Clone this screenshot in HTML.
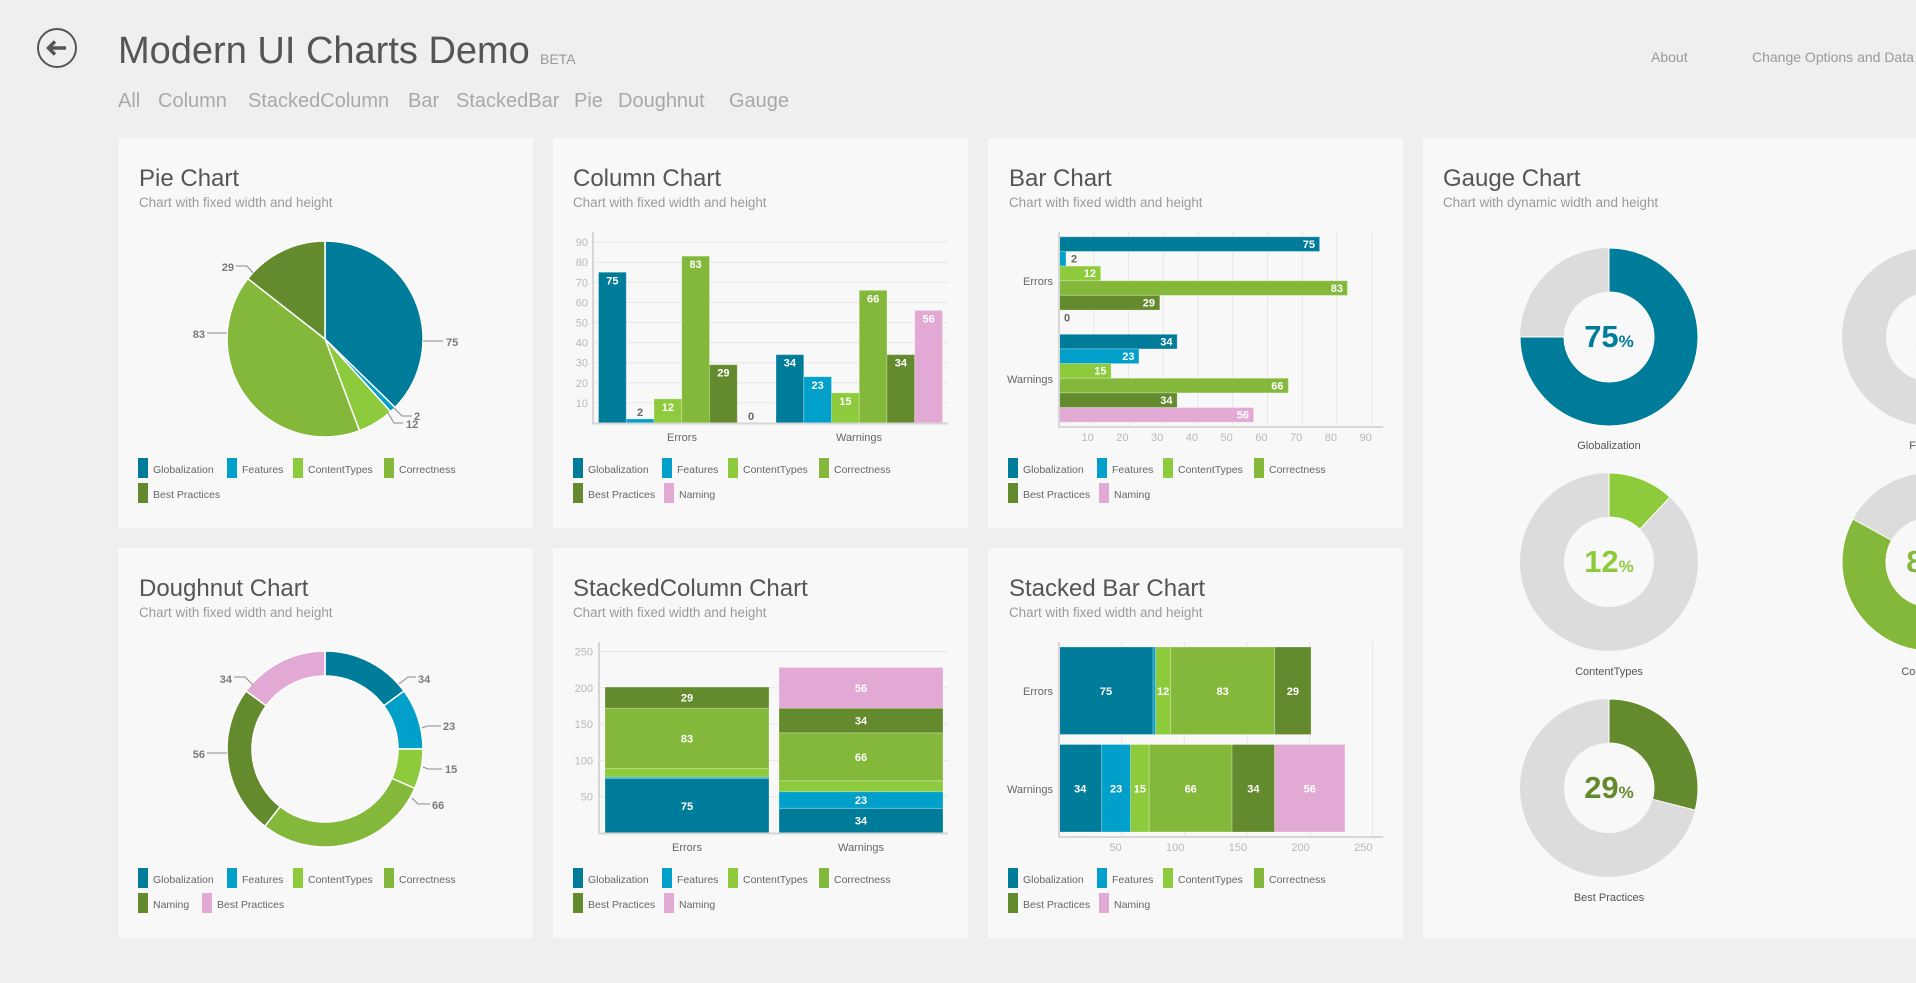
<!DOCTYPE html>
<html>
<head>
<meta charset="utf-8">
<style>
html,body{margin:0;padding:0;background:#efefef;width:1916px;height:983px;overflow:hidden;}
svg{display:block;font-family:"Liberation Sans",Arial,sans-serif;}
.t{font-size:24px;fill:#555;}
.st{font-size:13.4px;fill:#9a9a9a;}
.lg{font-size:10.5px;fill:#666;}
.tk{font-size:11px;fill:#b8b8b8;}
.cat{font-size:11px;fill:#666;}
.vl{font-size:11px;font-weight:bold;fill:#fff;}
.vo{font-size:11px;font-weight:bold;fill:#666;}
.pl{font-size:11px;font-weight:bold;fill:#7a7a7a;}
.nav{font-size:20px;fill:#a9a9a9;}
.hr{font-size:14px;fill:#999;}
.gl{stroke:#e6e6e6;stroke-width:1;}
.ax{stroke:#d6d6d6;stroke-width:2;}
.ld{stroke:#8a8a8a;stroke-width:1;fill:none;}
.bar{stroke:rgba(255,255,255,0.25);stroke-width:1;}
.gn{font-size:11px;fill:#555;}
</style>
</head>
<body>
<svg width="1916" height="983" viewBox="0 0 1916 983" xmlns="http://www.w3.org/2000/svg">
<rect x="0" y="0" width="1916" height="983" fill="#efefef"/>

<!-- Header -->
<circle cx="57" cy="48" r="19" fill="none" stroke="#555" stroke-width="2"/>
<path d="M66,48 H49 M55,41.5 L48.5,48 L55,54.5" fill="none" stroke="#555" stroke-width="3.5" stroke-linejoin="miter"/>
<text x="118" y="63" font-size="38" fill="#555">Modern UI Charts Demo</text>
<text x="540" y="64" font-size="14" fill="#999">BETA</text>
<text class="nav" x="118" y="107">All</text>
<text class="nav" x="158" y="107">Column</text>
<text class="nav" x="248" y="107">StackedColumn</text>
<text class="nav" x="408" y="107">Bar</text>
<text class="nav" x="456" y="107">StackedBar</text>
<text class="nav" x="574" y="107">Pie</text>
<text class="nav" x="618" y="107">Doughnut</text>
<text class="nav" x="729" y="107">Gauge</text>
<text class="hr" x="1651" y="62">About</text>
<text class="hr" x="1752" y="62">Change Options and Data</text>

<!-- Panels -->
<rect x="118" y="138" width="415" height="390" fill="#f8f8f8"/>
<rect x="553" y="138" width="415" height="390" fill="#f8f8f8"/>
<rect x="988" y="138" width="415" height="390" fill="#f8f8f8"/>
<rect x="118" y="548" width="415" height="390" fill="#f8f8f8"/>
<rect x="553" y="548" width="415" height="390" fill="#f8f8f8"/>
<rect x="988" y="548" width="415" height="390" fill="#f8f8f8"/>
<rect x="1423" y="138" width="520" height="800" fill="#f8f8f8"/>

<!-- ============ PIE ============ -->
<text class="t" x="139" y="186">Pie Chart</text>
<text class="st" x="139" y="207">Chart with fixed width and height</text>
<g stroke="#fff" stroke-width="1.5">
<path d="M325,339 L325,241 A98,98 0 0 1 395.09,407.49 Z" fill="#007C9B"/>
<path d="M325,339 L395.09,407.49 A98,98 0 0 1 390.68,411.73 Z" fill="#00A0CA"/>
<path d="M325,339 L390.68,411.73 A98,98 0 0 1 359.47,430.74 Z" fill="#8DCB3C"/>
<path d="M325,339 L359.47,430.74 A98,98 0 0 1 247.84,278.58 Z" fill="#84B83A"/>
<path d="M325,339 L247.84,278.58 A98,98 0 0 1 325,241 Z" fill="#638A2D"/>
</g>
<line class="ld" x1="423" y1="341" x2="443" y2="341"/>
<text class="pl" x="446" y="346">75</text>
<polyline class="ld" points="394,408 402,416 412,416"/>
<text class="pl" x="414" y="420">2</text>
<polyline class="ld" points="388,413 394,423 403,423"/>
<text class="pl" x="406" y="428">12</text>
<line class="ld" x1="207" y1="333" x2="227" y2="333"/>
<text class="pl" x="205" y="338" text-anchor="end">83</text>
<polyline class="ld" points="253,273 247,266 236,266"/>
<text class="pl" x="234" y="271" text-anchor="end">29</text>
<!-- legend -->
<rect x="138" y="458" width="10" height="20" fill="#007C9B"/><text class="lg" x="153" y="473">Globalization</text>
<rect x="227" y="458" width="10" height="20" fill="#00A0CA"/><text class="lg" x="242" y="473">Features</text>
<rect x="293" y="458" width="10" height="20" fill="#8DCB3C"/><text class="lg" x="308" y="473">ContentTypes</text>
<rect x="384" y="458" width="10" height="20" fill="#84B83A"/><text class="lg" x="399" y="473">Correctness</text>
<rect x="138" y="483" width="10" height="20" fill="#638A2D"/><text class="lg" x="153" y="498">Best Practices</text>

<!-- ============ COLUMN ============ -->
<text class="t" x="573" y="186">Column Chart</text>
<text class="st" x="573" y="207">Chart with fixed width and height</text>
<g class="gl">
<line x1="593" y1="402.9" x2="948" y2="402.9"/>
<line x1="593" y1="382.8" x2="948" y2="382.8"/>
<line x1="593" y1="362.7" x2="948" y2="362.7"/>
<line x1="593" y1="342.6" x2="948" y2="342.6"/>
<line x1="593" y1="322.5" x2="948" y2="322.5"/>
<line x1="593" y1="302.4" x2="948" y2="302.4"/>
<line x1="593" y1="282.3" x2="948" y2="282.3"/>
<line x1="593" y1="262.2" x2="948" y2="262.2"/>
<line x1="593" y1="242.1" x2="948" y2="242.1"/>
</g>
<g class="tk" text-anchor="end">
<text x="588" y="406.9">10</text><text x="588" y="386.8">20</text><text x="588" y="366.7">30</text>
<text x="588" y="346.6">40</text><text x="588" y="326.5">50</text><text x="588" y="306.4">60</text>
<text x="588" y="286.3">70</text><text x="588" y="266.2">80</text><text x="588" y="246.1">90</text>
</g>
<g class="bar">
<rect x="598.5" y="272.25" width="27.75" height="150.75" fill="#007C9B"/>
<rect x="626.25" y="418.98" width="27.75" height="4.02" fill="#00A0CA"/>
<rect x="654" y="398.88" width="27.75" height="24.12" fill="#8DCB3C"/>
<rect x="681.75" y="256.17" width="27.75" height="166.83" fill="#84B83A"/>
<rect x="709.5" y="364.71" width="27.75" height="58.29" fill="#638A2D"/>
<rect x="776" y="354.66" width="27.75" height="68.34" fill="#007C9B"/>
<rect x="803.75" y="376.77" width="27.75" height="46.23" fill="#00A0CA"/>
<rect x="831.5" y="392.85" width="27.75" height="30.15" fill="#8DCB3C"/>
<rect x="859.25" y="290.34" width="27.75" height="132.66" fill="#84B83A"/>
<rect x="887" y="354.66" width="27.75" height="68.34" fill="#638A2D"/>
<rect x="914.75" y="310.44" width="27.75" height="112.56" fill="#E2A9D5"/>
</g>
<g class="vl" text-anchor="middle">
<text x="612.4" y="284.3">75</text>
<text x="667.9" y="410.9">12</text>
<text x="695.6" y="268.2">83</text>
<text x="723.4" y="376.7">29</text>
<text x="789.9" y="366.7">34</text>
<text x="817.6" y="388.8">23</text>
<text x="845.4" y="404.9">15</text>
<text x="873.1" y="302.3">66</text>
<text x="900.9" y="366.7">34</text>
<text x="928.6" y="322.4">56</text>
</g>
<g class="vo" text-anchor="middle">
<text x="640.1" y="416">2</text>
<text x="751.1" y="420">0</text>
</g>
<line class="ax" x1="593" y1="232" x2="593" y2="424"/>
<line class="ax" x1="592" y1="423.5" x2="948" y2="423.5"/>
<text class="cat" x="682" y="441" text-anchor="middle">Errors</text>
<text class="cat" x="859" y="441" text-anchor="middle">Warnings</text>
<rect x="573" y="458" width="10" height="20" fill="#007C9B"/><text class="lg" x="588" y="473">Globalization</text>
<rect x="662" y="458" width="10" height="20" fill="#00A0CA"/><text class="lg" x="677" y="473">Features</text>
<rect x="728" y="458" width="10" height="20" fill="#8DCB3C"/><text class="lg" x="743" y="473">ContentTypes</text>
<rect x="819" y="458" width="10" height="20" fill="#84B83A"/><text class="lg" x="834" y="473">Correctness</text>
<rect x="573" y="483" width="10" height="20" fill="#638A2D"/><text class="lg" x="588" y="498">Best Practices</text>
<rect x="664" y="483" width="10" height="20" fill="#E2A9D5"/><text class="lg" x="679" y="498">Naming</text>

<!-- ============ BAR ============ -->
<text class="t" x="1009" y="186">Bar Chart</text>
<text class="st" x="1009" y="207">Chart with fixed width and height</text>
<g class="gl">
<line x1="1093.75" y1="232" x2="1093.75" y2="427"/>
<line x1="1128.5" y1="232" x2="1128.5" y2="427"/>
<line x1="1163.25" y1="232" x2="1163.25" y2="427"/>
<line x1="1198" y1="232" x2="1198" y2="427"/>
<line x1="1232.75" y1="232" x2="1232.75" y2="427"/>
<line x1="1267.5" y1="232" x2="1267.5" y2="427"/>
<line x1="1302.25" y1="232" x2="1302.25" y2="427"/>
<line x1="1337" y1="232" x2="1337" y2="427"/>
<line x1="1371.75" y1="232" x2="1371.75" y2="427"/>
</g>
<g class="tk" text-anchor="end">
<text x="1093.75" y="441">10</text><text x="1128.5" y="441">20</text><text x="1163.25" y="441">30</text>
<text x="1198" y="441">40</text><text x="1232.75" y="441">50</text><text x="1267.5" y="441">60</text>
<text x="1302.25" y="441">70</text><text x="1337" y="441">80</text><text x="1371.75" y="441">90</text>
</g>
<g class="bar">
<rect x="1059" y="236.8" width="260.6" height="14.65" fill="#007C9B"/>
<rect x="1059" y="251.45" width="6.95" height="14.65" fill="#00A0CA"/>
<rect x="1059" y="266.1" width="41.7" height="14.65" fill="#8DCB3C"/>
<rect x="1059" y="280.75" width="288.4" height="14.65" fill="#84B83A"/>
<rect x="1059" y="295.4" width="100.8" height="14.65" fill="#638A2D"/>
<rect x="1059" y="334.3" width="118.15" height="14.65" fill="#007C9B"/>
<rect x="1059" y="348.95" width="79.9" height="14.65" fill="#00A0CA"/>
<rect x="1059" y="363.6" width="52.1" height="14.65" fill="#8DCB3C"/>
<rect x="1059" y="378.25" width="229.35" height="14.65" fill="#84B83A"/>
<rect x="1059" y="392.9" width="118.15" height="14.65" fill="#638A2D"/>
<rect x="1059" y="407.55" width="194.6" height="14.65" fill="#E2A9D5"/>
</g>
<g class="vl" text-anchor="end">
<text x="1315" y="247.8">75</text>
<text x="1096" y="277.1">12</text>
<text x="1343" y="291.8">83</text>
<text x="1155" y="306.4">29</text>
<text x="1172.5" y="345.3">34</text>
<text x="1134.5" y="360">23</text>
<text x="1106.5" y="374.6">15</text>
<text x="1283.5" y="389.3">66</text>
<text x="1172.5" y="403.9">34</text>
<text x="1249" y="418.6">56</text>
</g>
<text class="vo" x="1071" y="262.5">2</text>
<text class="vo" x="1064" y="321.5">0</text>
<line class="ax" x1="1059" y1="232" x2="1059" y2="428"/>
<line class="ax" x1="1058" y1="427" x2="1383" y2="427"/>
<text class="cat" x="1053" y="285" text-anchor="end">Errors</text>
<text class="cat" x="1053" y="383" text-anchor="end">Warnings</text>
<rect x="1008" y="458" width="10" height="20" fill="#007C9B"/><text class="lg" x="1023" y="473">Globalization</text>
<rect x="1097" y="458" width="10" height="20" fill="#00A0CA"/><text class="lg" x="1112" y="473">Features</text>
<rect x="1163" y="458" width="10" height="20" fill="#8DCB3C"/><text class="lg" x="1178" y="473">ContentTypes</text>
<rect x="1254" y="458" width="10" height="20" fill="#84B83A"/><text class="lg" x="1269" y="473">Correctness</text>
<rect x="1008" y="483" width="10" height="20" fill="#638A2D"/><text class="lg" x="1023" y="498">Best Practices</text>
<rect x="1099" y="483" width="10" height="20" fill="#E2A9D5"/><text class="lg" x="1114" y="498">Naming</text>

<!-- ============ DOUGHNUT ============ -->
<text class="t" x="139" y="596">Doughnut Chart</text>
<text class="st" x="139" y="617">Chart with fixed width and height</text>
<g stroke="#fff" stroke-width="1.5">
<path d="M325,651 A98,98 0 0 1 403.98,690.98 L383.83,705.78 A73,73 0 0 0 325,676 Z" fill="#007C9B"/>
<path d="M403.98,690.98 A98,98 0 0 1 423,749 L398,749 A73,73 0 0 0 383.83,705.78 Z" fill="#00A0CA"/>
<path d="M423,749 A98,98 0 0 1 414.75,788.37 L391.85,778.32 A73,73 0 0 0 398,749 Z" fill="#8DCB3C"/>
<path d="M414.75,788.37 A98,98 0 0 1 264.81,826.34 L280.16,806.61 A73,73 0 0 0 391.85,778.32 Z" fill="#84B83A"/>
<path d="M264.81,826.34 A98,98 0 0 1 246.02,690.98 L266.17,705.78 A73,73 0 0 0 280.16,806.61 Z" fill="#638A2D"/>
<path d="M246.02,690.98 A98,98 0 0 1 325,651 L325,676 A73,73 0 0 0 266.17,705.78 Z" fill="#E2A9D5"/>
</g>
<polyline class="ld" points="399,684 408,677 416,677"/>
<text class="pl" x="418" y="683">34</text>
<polyline class="ld" points="422,728 427,726 441,726"/>
<text class="pl" x="443" y="730">23</text>
<polyline class="ld" points="423,767 428,769 442,769"/>
<text class="pl" x="445" y="773">15</text>
<polyline class="ld" points="412,798 418,804 430,804"/>
<text class="pl" x="432" y="809">66</text>
<line class="ld" x1="207" y1="753" x2="227" y2="753"/>
<text class="pl" x="205" y="758" text-anchor="end">56</text>
<polyline class="ld" points="253,685 245,677 234,677"/>
<text class="pl" x="232" y="683" text-anchor="end">34</text>
<rect x="138" y="868" width="10" height="20" fill="#007C9B"/><text class="lg" x="153" y="883">Globalization</text>
<rect x="227" y="868" width="10" height="20" fill="#00A0CA"/><text class="lg" x="242" y="883">Features</text>
<rect x="293" y="868" width="10" height="20" fill="#8DCB3C"/><text class="lg" x="308" y="883">ContentTypes</text>
<rect x="384" y="868" width="10" height="20" fill="#84B83A"/><text class="lg" x="399" y="883">Correctness</text>
<rect x="138" y="893" width="10" height="20" fill="#638A2D"/><text class="lg" x="153" y="908">Naming</text>
<rect x="202" y="893" width="10" height="20" fill="#E2A9D5"/><text class="lg" x="217" y="908">Best Practices</text>

<!-- ============ STACKED COLUMN ============ -->
<text class="t" x="573" y="596">StackedColumn Chart</text>
<text class="st" x="573" y="617">Chart with fixed width and height</text>
<g class="gl">
<line x1="599" y1="796.7" x2="948" y2="796.7"/>
<line x1="599" y1="760.4" x2="948" y2="760.4"/>
<line x1="599" y1="724.1" x2="948" y2="724.1"/>
<line x1="599" y1="687.8" x2="948" y2="687.8"/>
<line x1="599" y1="651.5" x2="948" y2="651.5"/>
</g>
<g class="tk" text-anchor="end">
<text x="593" y="800.7">50</text><text x="593" y="764.4">100</text><text x="593" y="728.1">150</text>
<text x="593" y="691.8">200</text><text x="593" y="655.5">250</text>
</g>
<g class="bar">
<rect x="605" y="778.55" width="164" height="54.45" fill="#007C9B"/>
<rect x="605" y="777.1" width="164" height="1.45" fill="#00A0CA"/>
<rect x="605" y="768.39" width="164" height="8.71" fill="#8DCB3C"/>
<rect x="605" y="708.13" width="164" height="60.26" fill="#84B83A"/>
<rect x="605" y="687.07" width="164" height="21.06" fill="#638A2D"/>
<rect x="779" y="808.32" width="164" height="24.68" fill="#007C9B"/>
<rect x="779" y="791.62" width="164" height="16.7" fill="#00A0CA"/>
<rect x="779" y="780.73" width="164" height="10.89" fill="#8DCB3C"/>
<rect x="779" y="732.81" width="164" height="47.92" fill="#84B83A"/>
<rect x="779" y="708.13" width="164" height="24.68" fill="#638A2D"/>
<rect x="779" y="667.47" width="164" height="40.66" fill="#E2A9D5"/>
</g>
<g class="vl" text-anchor="middle">
<text x="687" y="809.8">75</text>
<text x="687" y="742.3">83</text>
<text x="687" y="701.6">29</text>
<text x="861" y="824.7">34</text>
<text x="861" y="804">23</text>
<text x="861" y="760.8">66</text>
<text x="861" y="724.5">34</text>
<text x="861" y="691.8">56</text>
</g>
<line class="ax" x1="599" y1="642" x2="599" y2="834"/>
<line class="ax" x1="598" y1="833.5" x2="948" y2="833.5"/>
<text class="cat" x="687" y="851" text-anchor="middle">Errors</text>
<text class="cat" x="861" y="851" text-anchor="middle">Warnings</text>
<rect x="573" y="868" width="10" height="20" fill="#007C9B"/><text class="lg" x="588" y="883">Globalization</text>
<rect x="662" y="868" width="10" height="20" fill="#00A0CA"/><text class="lg" x="677" y="883">Features</text>
<rect x="728" y="868" width="10" height="20" fill="#8DCB3C"/><text class="lg" x="743" y="883">ContentTypes</text>
<rect x="819" y="868" width="10" height="20" fill="#84B83A"/><text class="lg" x="834" y="883">Correctness</text>
<rect x="573" y="893" width="10" height="20" fill="#638A2D"/><text class="lg" x="588" y="908">Best Practices</text>
<rect x="664" y="893" width="10" height="20" fill="#E2A9D5"/><text class="lg" x="679" y="908">Naming</text>

<!-- ============ STACKED BAR ============ -->
<text class="t" x="1009" y="596">Stacked Bar Chart</text>
<text class="st" x="1009" y="617">Chart with fixed width and height</text>
<g class="gl">
<line x1="1121.7" y1="642" x2="1121.7" y2="837"/>
<line x1="1184.4" y1="642" x2="1184.4" y2="837"/>
<line x1="1247.1" y1="642" x2="1247.1" y2="837"/>
<line x1="1309.8" y1="642" x2="1309.8" y2="837"/>
<line x1="1372.5" y1="642" x2="1372.5" y2="837"/>
</g>
<g class="tk" text-anchor="end">
<text x="1121.7" y="851">50</text><text x="1184.4" y="851">100</text><text x="1247.1" y="851">150</text>
<text x="1309.8" y="851">200</text><text x="1372.5" y="851">250</text>
</g>
<g class="bar">
<rect x="1059" y="647" width="94.05" height="87.5" fill="#007C9B"/>
<rect x="1153.05" y="647" width="2.51" height="87.5" fill="#00A0CA"/>
<rect x="1155.56" y="647" width="15.05" height="87.5" fill="#8DCB3C"/>
<rect x="1170.61" y="647" width="104.08" height="87.5" fill="#84B83A"/>
<rect x="1274.69" y="647" width="36.37" height="87.5" fill="#638A2D"/>
<rect x="1059" y="744.5" width="42.64" height="87.5" fill="#007C9B"/>
<rect x="1101.64" y="744.5" width="28.84" height="87.5" fill="#00A0CA"/>
<rect x="1130.48" y="744.5" width="18.81" height="87.5" fill="#8DCB3C"/>
<rect x="1149.29" y="744.5" width="82.76" height="87.5" fill="#84B83A"/>
<rect x="1232.05" y="744.5" width="42.64" height="87.5" fill="#638A2D"/>
<rect x="1274.69" y="744.5" width="70.22" height="87.5" fill="#E2A9D5"/>
</g>
<g class="vl" text-anchor="middle">
<text x="1106" y="694.8">75</text>
<text x="1163.1" y="694.8">12</text>
<text x="1222.6" y="694.8">83</text>
<text x="1292.9" y="694.8">29</text>
<text x="1080.3" y="792.3">34</text>
<text x="1116.1" y="792.3">23</text>
<text x="1139.9" y="792.3">15</text>
<text x="1190.7" y="792.3">66</text>
<text x="1253.4" y="792.3">34</text>
<text x="1309.8" y="792.3">56</text>
</g>
<line class="ax" x1="1059" y1="642" x2="1059" y2="838"/>
<line class="ax" x1="1058" y1="837" x2="1383" y2="837"/>
<text class="cat" x="1053" y="695" text-anchor="end">Errors</text>
<text class="cat" x="1053" y="793" text-anchor="end">Warnings</text>
<rect x="1008" y="868" width="10" height="20" fill="#007C9B"/><text class="lg" x="1023" y="883">Globalization</text>
<rect x="1097" y="868" width="10" height="20" fill="#00A0CA"/><text class="lg" x="1112" y="883">Features</text>
<rect x="1163" y="868" width="10" height="20" fill="#8DCB3C"/><text class="lg" x="1178" y="883">ContentTypes</text>
<rect x="1254" y="868" width="10" height="20" fill="#84B83A"/><text class="lg" x="1269" y="883">Correctness</text>
<rect x="1008" y="893" width="10" height="20" fill="#638A2D"/><text class="lg" x="1023" y="908">Best Practices</text>
<rect x="1099" y="893" width="10" height="20" fill="#E2A9D5"/><text class="lg" x="1114" y="908">Naming</text>

<!-- ============ GAUGES ============ -->
<text class="t" x="1443" y="186">Gauge Chart</text>
<text class="st" x="1443" y="207">Chart with dynamic width and height</text>
<g fill="none" stroke="#dcdcdc" stroke-width="44">
<circle cx="1609" cy="337" r="67"/>
<circle cx="1609" cy="562" r="67"/>
<circle cx="1609" cy="788" r="67"/>
<circle cx="1931" cy="337" r="67"/>
<circle cx="1931" cy="562" r="67"/>
</g>
<g stroke="#fff" stroke-width="1">
<path d="M1609,248 A89,89 0 1 1 1520,337 L1564,337 A45,45 0 1 0 1609,292 Z" fill="#007C9B"/>
<path d="M1609,473 A89,89 0 0 1 1669.95,497.12 L1639.82,529.19 A45,45 0 0 0 1609,517 Z" fill="#8DCB3C"/>
<path d="M1609,699 A89,89 0 0 1 1695.2,810.13 L1652.59,799.19 A45,45 0 0 0 1609,743 Z" fill="#638A2D"/>
<path d="M1931,248 A89,89 0 0 1 1942.15,248.7 L1936.64,292.36 A45,45 0 0 0 1931,292 Z" fill="#00A0CA"/>
<path d="M1931,473 A89,89 0 1 1 1853.01,519.12 L1891.57,540.32 A45,45 0 1 0 1931,517 Z" fill="#84B83A"/>
</g>
<g font-weight="bold" text-anchor="middle">
<text x="1609" y="347" fill="#007C9B"><tspan font-size="31">75</tspan><tspan font-size="17">%</tspan></text>
<text x="1609" y="572" fill="#8DCB3C"><tspan font-size="31">12</tspan><tspan font-size="17">%</tspan></text>
<text x="1609" y="798" fill="#638A2D"><tspan font-size="31">29</tspan><tspan font-size="17">%</tspan></text>
<text x="1931" y="347" fill="#00A0CA"><tspan font-size="31">2</tspan><tspan font-size="17">%</tspan></text>
<text x="1931" y="572" fill="#84B83A"><tspan font-size="31">83</tspan><tspan font-size="17">%</tspan></text>
</g>
<g class="gn" text-anchor="middle">
<text x="1609" y="449">Globalization</text>
<text x="1609" y="675">ContentTypes</text>
<text x="1609" y="901">Best Practices</text>
<text x="1931" y="449">Features</text>
<text x="1931" y="675">Correctness</text>
</g>
</svg>
</body>
</html>
